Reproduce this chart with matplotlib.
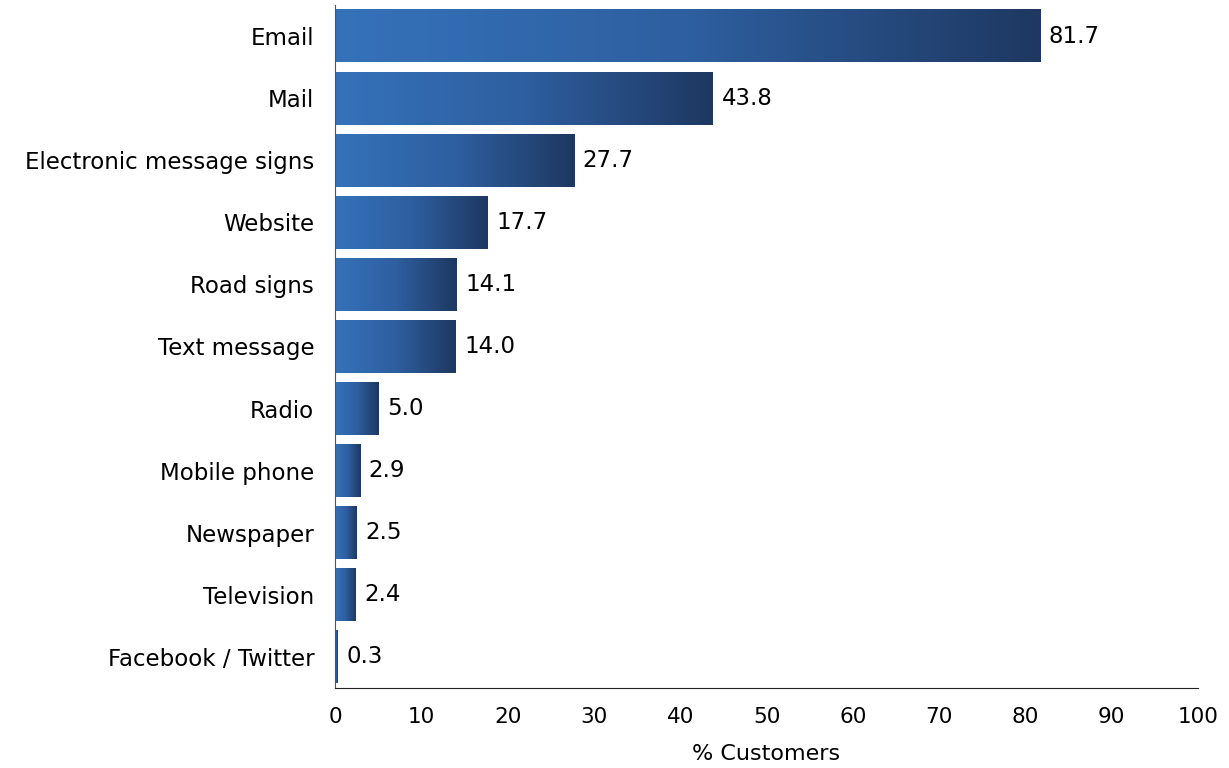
import matplotlib.pyplot as plt
import numpy as np
from matplotlib.colors import LinearSegmentedColormap

categories = ['Email', 'Mail', 'Electronic message signs', 'Website', 'Road signs',
              'Text message', 'Radio', 'Mobile phone', 'Newspaper', 'Television',
              'Facebook / Twitter']
values = [81.7, 43.8, 27.7, 17.7, 14.1, 14.0, 5.0, 2.9, 2.5, 2.4, 0.3]

plt.rcParams['font.family'] = ['DejaVu Sans']
fig = plt.figure(figsize=(12.29, 7.68), dpi=100)
ax = fig.add_axes([0.2726, 0.1042, 0.7022, 0.8893])

# each bar gets its own light-to-dark horizontal gradient
cmap = LinearSegmentedColormap.from_list('bluegrad', ['#3572BA', '#2E5FA0', '#1E3861'])
grad = np.linspace(0, 1, 256).reshape(1, -1)
h = 0.85

for i, v in enumerate(values):
    ax.imshow(grad, cmap=cmap, aspect='auto', interpolation='bilinear',
              extent=[0, v, i + h / 2, i - h / 2], zorder=2)
    ax.text(v + 1.0, i, f'{v:.1f}', va='center', ha='left', fontsize=16.5)

ax.set_xlim(0, 100)
ax.set_ylim(len(values) - 0.5, -0.5)
ax.set_yticks(range(len(values)))
ax.set_yticklabels(categories, fontsize=16.5)
ax.set_xticks(range(0, 101, 10))
ax.tick_params(axis='x', labelsize=15.5, length=0, pad=14)
ax.tick_params(axis='y', length=0, pad=15)
ax.set_xlabel('% Customers', fontsize=16, labelpad=12)
for s in ['top', 'right']:
    ax.spines[s].set_visible(False)
ax.spines['left'].set_color('#555555')
ax.spines['bottom'].set_color('#222222')

fig.savefig('out.png', dpi=100)
